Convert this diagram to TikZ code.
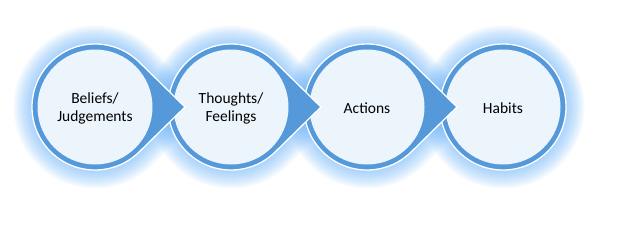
\documentclass[tikz,border=0pt]{standalone}
\usepackage{fontspec}
\setmainfont{Carlito}
\usetikzlibrary{calc}
\definecolor{ringblue}{HTML}{5599DB}
\definecolor{innerfill}{HTML}{EDF5FC}
\definecolor{glowblue}{HTML}{5AAAF7}
\begin{document}
\begin{tikzpicture}[x=1pt,y=-1pt,
  lbl/.style={align=center,font=\fontsize{15.5}{18}\selectfont,text=black,inner sep=0pt},
  glowline/.style={draw=glowblue,opacity=0.055,line join=round},
  outerpart/.style={fill=ringblue,draw=white,line width=1.3pt,line join=miter},
  innerpart/.style={fill=innerfill}]
\useasboundingbox (0,0) rectangle (628,236);
\def\R{63}
\def\r{57.5}
\def\phiA{45.57}
% glows
\foreach \cx in {95,231,367}{
  \foreach \w in {4,7,...,37}{
    \draw[glowline,line width=\w pt] (\cx+90,107) -- ($(\cx,107)+(\phiA:\R)$) arc[start angle=\phiA,end angle=360-\phiA,radius=\R] -- cycle;
  }
}
\foreach \w in {4,7,...,37}{
  \draw[glowline,line width=\w pt] (503,107) circle[radius=\R];
}
% shapes, right to left
\draw[outerpart] (503,107) circle[radius=\R];
\fill[innerpart] (503,107) circle[radius=\r];
\foreach \cx in {367,231,95}{
  \draw[outerpart] (\cx+90,107) -- ($(\cx,107)+(\phiA:\R)$) arc[start angle=\phiA,end angle=360-\phiA,radius=\R] -- cycle;
  \fill[innerpart] (\cx,107) circle[radius=\r];
}
% labels
\node[lbl] (b) at (95,108) {Beliefs/\\Judgements};
\node[lbl] (t) at (231,108) {Thoughts/\\Feelings};
\node[lbl] (a) at (367,108) {Actions};
\node[lbl] (h) at (503,108) {Habits};
\end{tikzpicture}
\end{document}
